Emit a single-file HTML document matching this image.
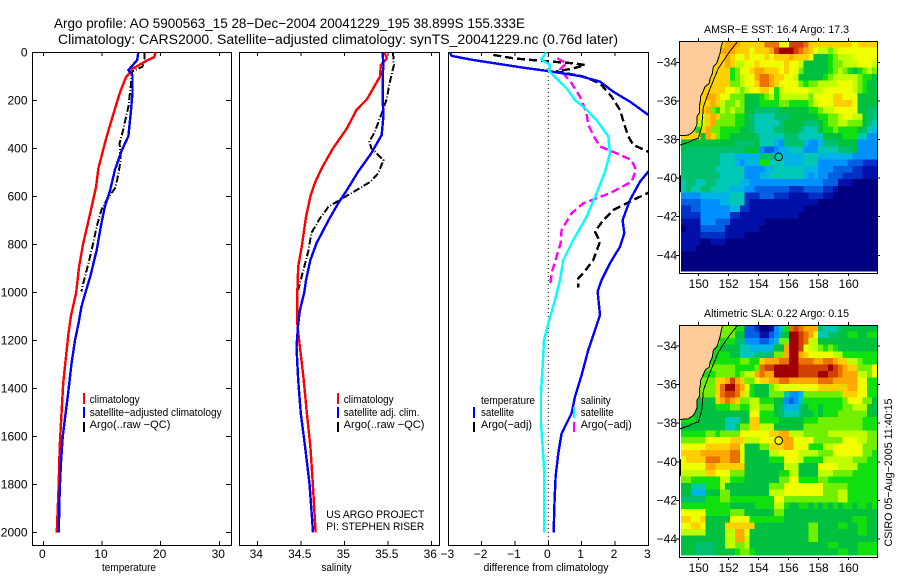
<!DOCTYPE html>
<html lang="en">
<head>
<meta charset="utf-8">
<title>Argo profile 5900563_15</title>
<style>
html,body{margin:0;padding:0;background:#fff;width:900px;height:580px;overflow:hidden}
svg{display:block}
text{font-family:"Liberation Sans",sans-serif;fill:#000}
.t{font-size:14px}
.s{font-size:11px}
.k{font-size:12px}
</style>
</head>
<body>
<svg id="fig" xmlns="http://www.w3.org/2000/svg" width="900" height="580" viewBox="0 0 900 580">
<rect x="0" y="0" width="900" height="580" fill="#fff"/>
<text class="t" x="54" y="28" textLength="471" lengthAdjust="spacingAndGlyphs">Argo profile: AO 5900563_15 28−Dec−2004 20041229_195 38.899S 155.333E</text>
<text class="t" x="58" y="44" textLength="560" lengthAdjust="spacingAndGlyphs">Climatology: CARS2000. Satellite−adjusted climatology: synTS_20041229.nc (0.76d later)</text>
<g id="plots"></g>

<text class="s" x="102" y="571" textLength="54" lengthAdjust="spacingAndGlyphs">temperature</text>
<text class="s" x="321.5" y="571" textLength="30" lengthAdjust="spacingAndGlyphs">salinity</text>
<text class="s" x="483.5" y="571" textLength="125" lengthAdjust="spacingAndGlyphs">difference from climatology</text>

<g>
<rect x="83" y="393" width="2" height="11" fill="#f00"/>
<rect x="83" y="407" width="2" height="11" fill="#00f"/>
<rect x="83" y="422" width="2" height="10" fill="#000"/>
<text class="s" x="89.7" y="403" textLength="50" lengthAdjust="spacingAndGlyphs">climatology</text>
<text class="s" x="89.7" y="416" textLength="132" lengthAdjust="spacingAndGlyphs">satellite−adjusted climatology</text>
<text class="s" x="89.7" y="428" textLength="80.7" lengthAdjust="spacingAndGlyphs">Argo(..raw −QC)</text>
</g>
<g>
<rect x="337" y="393" width="2" height="11" fill="#f00"/>
<rect x="337" y="407" width="2" height="11" fill="#00f"/>
<rect x="337" y="422" width="2" height="10" fill="#000"/>
<text class="s" x="343.7" y="403" textLength="50" lengthAdjust="spacingAndGlyphs">climatology</text>
<text class="s" x="343.7" y="416" textLength="75.7" lengthAdjust="spacingAndGlyphs">satellite adj. clim.</text>
<text class="s" x="343.7" y="428" textLength="80.7" lengthAdjust="spacingAndGlyphs">Argo(..raw −QC)</text>
<text class="s" x="326.3" y="518" textLength="98" lengthAdjust="spacingAndGlyphs">US ARGO PROJECT</text>
<text class="s" x="326.3" y="530" textLength="98" lengthAdjust="spacingAndGlyphs">PI: STEPHEN RISER</text>
</g>
<g>
<rect x="473" y="407" width="2" height="11" fill="#00f"/>
<rect x="473" y="422" width="2" height="10" fill="#000"/>
<rect x="573" y="407" width="2" height="11" fill="#0ff"/>
<rect x="573" y="422" width="2" height="10" fill="#f0f"/>
<text class="s" x="481" y="404" textLength="54" lengthAdjust="spacingAndGlyphs">temperature</text>
<text class="s" x="481" y="416" textLength="33" lengthAdjust="spacingAndGlyphs">satellite</text>
<text class="s" x="481" y="428" textLength="51" lengthAdjust="spacingAndGlyphs">Argo(−adj)</text>
<text class="s" x="580.7" y="404" textLength="30" lengthAdjust="spacingAndGlyphs">salinity</text>
<text class="s" x="580.7" y="416" textLength="33" lengthAdjust="spacingAndGlyphs">satellite</text>
<text class="s" x="580.7" y="428" textLength="51" lengthAdjust="spacingAndGlyphs">Argo(−adj)</text>
</g>

<text class="s" x="704" y="33" textLength="145" lengthAdjust="spacingAndGlyphs">AMSR−E SST: 16.4 Argo: 17.3</text>
<text class="s" x="704" y="317" textLength="145" lengthAdjust="spacingAndGlyphs">Altimetric SLA: 0.22 Argo: 0.15</text>
<text class="s" transform="translate(892,546.5) rotate(-90)" x="0" y="0" textLength="148" lengthAdjust="spacingAndGlyphs">CSIRO 05−Aug−2005 11:40:15</text>
</svg>

<script>
/* ---------- profile data: depths and values ---------- */
const depthTicks = [0,200,400,600,800,1000,1200,1400,1600,1800,2000];
const tempTicks = [0,10,20,30];
const salTicks = [34,34.5,35,35.5,36];
const salTickLabels = ['34','34.5','35','35.5','36'];
const diffTicks = [-3,-2,-1,0,1,2,3];
const diffTickLabels = ['−3','−2','−1','0','1','2','3'];

const tempClimDepths = [0,20,35,67,104,164,261,351,483,560,671,796,893,1000,1100,1170,1283,1380,1505,1645,1810,2000];
const tempClimValues = [19.1,18.9,17.6,15.3,14.1,13.1,11.9,10.8,9.4,9.0,8.0,6.8,6.1,5.6,4.7,4.3,3.8,3.4,3.1,2.8,2.6,2.3];
const tempSatDepths = [0,32,74,94,170,254,349,407,490,574,643,712,824,935,1000,1061,1130,1200,1297,1408,1505,1603,1714,1825,1936,2000];
const tempSatValues = [16.2,16,14.5,15.2,15.2,14.9,14.5,13.4,12.2,11.4,10.5,9.9,9.1,8,7.2,6.5,6,5.4,4.8,4.3,3.8,3.3,3,2.8,2.7,2.6];
const tempArgoDepths = [0,39,60,80,143,226,324,379,449,532,567,615,657,726,796,879,963,997];
const tempArgoValues = [17.3,17.2,16.9,15.1,14.9,14.5,13.6,13,13.2,12.6,12.2,10.8,9.9,9.1,8.5,7.7,6.8,6.5];

const salClimDepths = [0,25,53,101,196,240,317,400,483,546,601,685,810,893,1000,1130,1228,1353,1505,1644,1811,2000];
const salClimValues = [35.46,35.49,35.42,35.41,35.26,35.14,35.03,34.87,34.74,34.66,34.61,34.56,34.51,34.47,34.46,34.46,34.49,34.53,34.57,34.61,34.64,34.67];
const salSatDepths = [0,60,87,199,261,344,421,497,574,629,699,796,865,949,1000,1075,1130,1228,1367,1505,1644,1797,1894,2000];
const salSatValues = [35.44,35.45,35.44,35.44,35.45,35.43,35.31,35.16,35.03,34.93,34.82,34.68,34.61,34.56,34.54,34.49,34.47,34.45,34.47,34.5,34.55,34.6,34.62,34.64];
const salArgoDepths = [0,53,129,192,254,331,372,400,421,449,504,539,574,615,643,692,754,824,907,963,990];
const salArgoValues = [35.56,35.57,35.52,35.49,35.43,35.35,35.29,35.31,35.37,35.45,35.39,35.3,35.14,34.95,34.82,34.72,34.62,34.59,34.53,34.49,34.47];

const diffTempSatDepths = [0,15,32,64,79,99,122,164,206,261,300,400,497,539,615,699,754,810,879,949,997,1094,1157,1240,1345,1435,1504,1588,1671,1768,1865,2000];
const diffTempSatValues = [-2.95,-2.9,-2.25,-0.75,0.05,0.95,1.55,1.95,2.45,3,3.3,3.5,3,2.75,2.45,2.23,2.28,2.15,1.85,1.6,1.48,1.55,1.4,1.2,1,0.8,0.7,0.4,0.3,0.22,0.19,0.16];
const diffSalSatDepths = [0,29,53,80,150,199,233,282,351,421,497,587,685,782,865,949,1032,1129,1199,1310,1421,1546,1643,1754,2000];
const diffSalSatValues = [-0.05,-0.22,0.05,0.03,0.55,0.8,1.1,1.45,1.8,1.85,1.7,1.45,1.15,0.75,0.45,0.35,0.2,0,-0.13,-0.17,-0.22,-0.22,-0.17,-0.12,-0.12];
const diffTempArgoDepths = [11,25,35,46,53,67,80,101,129,185,240,296,351,386,414,450,530,585,622,657,699,747,789,865,921,942,979];
const diffTempArgoValues = [-1.65,-1.05,-0.25,0.75,1.1,0.75,0.25,1.05,1.55,1.9,2.15,2.27,2.4,2.55,3,3.6,3.5,3,2.45,1.95,1.65,1.4,1.55,1.35,1.05,0.9,0.9];
const diffSalArgoDepths = [25,46,71,129,185,254,303,351,393,421,449,490,539,587,629,671,740,796,851,921,976];
const diffSalArgoValues = [0.27,0.55,0.35,0.7,0.95,1.15,1.2,1.37,1.55,2.05,2.5,2.63,2.5,1.85,1.05,0.7,0.4,0.37,0.25,0.1,0.05];

/* ---------- map data: colour-level grids (40 columns, base-18 levels) ---------- */
const sstRows = [
"ddddddddde eedddddfff ccgggfdddd dddddcdddd",
"ddddddddee edddcdddeg hhhgfedcbb abcccccccc",
"ddddddddde dccdcccdcd ddedddc888 9abbbccccc",
"ddddddddde dbbccdcccc cdccb88888 9aabbbcccb",
"dddddddddd 9accdeeddd cdcca88888 9aba989aba",
"dddddddddd 9abcceffed dccb888889 abbbbba998",
"dddddddddd aabccdffed cccca9aabb bbcccba988",
"dddddddddc cbabccddc9 bcccccbbbc cccccba988",
"dddddeedcc aaa8889ab9 bbbbbbaccc cddccc8888",
"ddddddedba aba8889999 aa9999abcc cddddc8888",
"dddddea9ba baa8877777 88888899ab bccccc8877",
"ddddbdedaa a998766667 7788888899 aabccbb877",
"dddbbdeaaa a998766666 7888877789 aabbaaa876",
"ddd9deaa99 9988766667 7888766689 9a99998765",
"dddd8eda99 8888876666 6777666668 8889996644",
"8888888888 8777786665 4777754457 7788884444",
"8777777777 7778884334 5566644466 6677784444",
"7777777766 6555557776 6555566655 5555544444",
"7777777766 6545559966 6555566644 4444333222",
"7777777666 6664444556 6666655544 4333322111",
"7777777766 6664445566 6666654544 3332222111",
"6776677666 6655444444 4444444443 3311100000",
"6766776666 5554433333 3322233332 2100000000",
"4444555555 6662223332 2211112221 1000000000",
"3333444455 6662111111 1111111100 0000000000",
"2233444444 5522111111 1111100000 0000000000",
"2222444444 2211111111 1111000000 0000000000",
"1111444333 1111111000 0000000000 0000000000",
"0111333331 1111110000 0000000000 0000000000",
"1111222221 1110000000 0000000000 0000000000",
"1111001110 0000000000 0000000000 0000000000",
"1110000000 0000000000 0000000000 0000000000",
"0000000000 0000000000 0000000000 0000000000",
"0000000000 0000000000 0000000000 0000000000",
"0000000000 0000000000 0000000000 0000000000"
];
const slaRows = [
"aaaaaaaaaa a993320014 69fgfeee76 6678888888",
"aaaaaaaaaa a883331134 78hhgfec66 7788998899",
"aaaaaaaa99 9774443345 aahhgfbb88 8888888888",
"9999999988 8866555558 8ehhgcbba9 a988888888",
"9999999999 886667777a aehhedcccc cbb9999999",
"9999999999 99aa99deee ffhhfffeef feddbba999",
"aaaaaaaaaa a9999afggh hhhhgggggg hgfeddaaac",
"9999999aaa a9abbefeeh hhhhgggghh ggfeeebbac",
"aaaaaaadde gedaacddee ffeeeeeeff feeeeecc99",
"aaaaaaadfh hfec9888ab ccccccccdd ddddeecc99",
"aaaaaaadfg gfdb9888aa a6445aaaaa aaadddcc99",
"aaa8888def edaabb9998 8434699999 999acccaa8",
"aaa8888999 aa99bbaaa8 7555789989 999aabbb88",
"8a88888888 8888cc9998 7666788989 99aaaaaa88",
"9998888886 6688dd9999 88888999aa aaaaaaa999",
"8888888886 67aaddbbb8 88888aaaaa aaaaaaa999",
"99999aa9aa aaccccccdd eebbbaaaaa bbbbbbbbaa",
"aaaaaccccc dddbbbcccc eeeccccaaa aaacccbbaa",
"cccccddddd eec888aadd deeccc999b bccccccaaa",
"ddddeeeeee ffc88888bb ccccbbbbaa accccccaa9",
"cddddfffee ffc8888899 9cccb9999b bbbbbaaa99",
"ccccceeddd ddd8888888 8bbb8888cc ccbbbb9999",
"bbbbbddccc aaa8888888 99bb8888bb baaaa99999",
"aa999999bb 9998888888 aacc9999aa 9999999999",
"88666999b8 88888888aa acccccccca aaaa999999",
"88555888aa 88888888bb bcccccccca aabb999999",
"77777999aa 999999999c caaaaaaaaa aabb999999",
"9999999999 888889999b b988998989 8989989989",
"ccccc99999 aaa888888a a888888888 8888888888",
"ddccd88888 cccc999999 9888888888 8888899988",
"ccddc8888d ddddd88888 888888aa88 8899889988",
"bbbbb8888b beec888888 888888aa88 8888889988",
"888888888b beeb888888 888888aa88 8888888888",
"888777788b baab888888 8888888888 9988889999",
"8887777888 89aa988888 8888888888 8899889999"
];
const levelColors = ['#000080','#0010a8','#0030c8','#0060e4','#0090ff','#00b4e8','#00c8b4','#00c070','#00c040','#10e010','#70f000','#c0ff00','#f0ff00','#ffd000','#ffa800','#ec7000','#d04000','#a00000'];
const lonTicks = [150,152,154,156,158,160];
const latTicks = [-34,-36,-38,-40,-42,-44];
const coastLons = [151.6,151.5,151.42,151.31,151.2,150.98,150.9,150.76,150.7,150.42,150.3,150.13,150.1,150.04,150.06,149.87,149.9,149.71,149.62,149.31,148.71];
const coastLats = [-32.91,-33.2,-33.53,-33.8,-34.05,-34.22,-34.6,-34.83,-35.1,-35.26,-35.5,-35.78,-36.05,-36.3,-36.6,-36.82,-37.2,-37.51,-37.6,-37.77,-37.81];
const shelfLons = [152.6,151.98,151.31,150.76,150.31,150.2,149.98,149.6,149.42,148.76];
const shelfLats = [-32.91,-33.53,-34.31,-35.35,-36.3,-37.34,-37.94,-38.02,-38.12,-38.29];
const islandLons = [148.76,148.8,148.8,148.76];
const islandLats = [-39.85,-39.95,-40.6,-40.75];
const argoLon = 155.333;
const argoLat = -38.899;

/* ---------- drawing helpers ---------- */
const NS = 'http://www.w3.org/2000/svg';
const root = document.getElementById('plots');
function mk(tag, parent, props) {
  const el = document.createElementNS(NS, tag);
  for (const k in props) { el.setAttribute(k, props[k]); }
  parent.appendChild(el);
  return el;
}
function label(parent, name, x, y, str, anchor) {
  const el = mk('text', parent, { x: x, y: y, 'text-anchor': anchor, class: 'k' });
  
  
  el.textContent = str;
  return el;
}
function tickLine(parent, name, x1, y1, x2, y2) {
  const el = mk('line', parent, { x1: x1, y1: y1, x2: x2, y2: y2, stroke: '#000', 'stroke-width': 1, 'shape-rendering': 'crispEdges' });
  
  
  return el;
}
const depthY = function (d) { return 52.3 + d * 0.24; };
const box = { top: 52, bottom: 545 };

function panel(name, left, right, xScale, ticks, tickLabels, showDepth) {
  const g = mk('g', root, {});
  
  
  const clip = mk('clipPath', g, { id: name + '-clip' });
  mk('rect', clip, { x: left, y: box.top, width: right - left, height: box.bottom - box.top });
  const frame = mk('rect', g, { x: left + 0.5, y: box.top + 0.5, width: right - left, height: box.bottom - box.top, fill: 'none', stroke: '#000', 'stroke-width': 1, 'shape-rendering': 'crispEdges' });
  
  
  ticks.forEach(function (v, i) {
    const x = xScale(v);
    tickLine(g, name + '-x-tick', x, box.top, x, box.top + 4);
    tickLine(g, name + '-x-tick', x, box.bottom, x, box.bottom - 4);
    label(g, name + '-x-tick-label', x - 1, 558, tickLabels[i], 'middle');
  });
  if (showDepth) {
    depthTicks.forEach(function (d) {
      const y = depthY(d);
      tickLine(g, 'depth-tick', left, y, left + 5, y);
      tickLine(g, 'depth-tick', right, y, right - 5, y);
      label(g, 'depth-tick-label', 27.5, y + 4, String(d), 'end');
    });
  }
  return g;
}
function profile(g, panelName, name, depths, values, xScale, color, width, dash) {
  const pts = depths.map(function (d, i) { return xScale(values[i]).toFixed(1) + ',' + depthY(d).toFixed(1); });
  const el = mk('polyline', g, { points: pts.join(' '), fill: 'none', stroke: color, 'stroke-width': width, 'clip-path': 'url(#' + panelName + '-clip)', 'stroke-linejoin': 'round', 'shape-rendering': 'crispEdges' });
  
  
  if (dash) { el.setAttribute('stroke-dasharray', dash); }
  return el;
}

/* ---------- profile panels ---------- */
const tempX = function (v) { return 43.3 + v * 5.867; };
const salX = function (v) { return 257.3 + (v - 34) * 87; };
const diffX = function (v) { return 548.3 + v * 33.33; };

const tempPanel = panel('temperature-panel', 32, 231, tempX, tempTicks, tempTicks.map(String), true);
profile(tempPanel, 'temperature-panel', 'temperature-argo-line', tempArgoDepths, tempArgoValues, tempX, '#000', 2, '7 2 1 2');
profile(tempPanel, 'temperature-panel', 'temperature-climatology-line', tempClimDepths, tempClimValues, tempX, '#f00', 2.4);
profile(tempPanel, 'temperature-panel', 'temperature-satellite-line', tempSatDepths, tempSatValues, tempX, '#00f', 2.4);

const salPanel = panel('salinity-panel', 239, 439, salX, salTicks, salTickLabels, false);
profile(salPanel, 'salinity-panel', 'salinity-argo-line', salArgoDepths, salArgoValues, salX, '#000', 2, '7 2 1 2');
profile(salPanel, 'salinity-panel', 'salinity-climatology-line', salClimDepths, salClimValues, salX, '#f00', 2.4);
profile(salPanel, 'salinity-panel', 'salinity-satellite-line', salSatDepths, salSatValues, salX, '#00f', 2.4);

const diffPanel = panel('difference-panel', 448, 648, diffX, diffTicks, diffTickLabels, false);
const zeroLine = mk('line', diffPanel, { x1: diffX(0), y1: box.top, x2: diffX(0), y2: box.bottom, stroke: '#000', 'stroke-width': 1, 'stroke-dasharray': '1 3' });


profile(diffPanel, 'difference-panel', 'difference-temperature-argo-line', diffTempArgoDepths, diffTempArgoValues, diffX, '#000', 2.4, '8 4');
profile(diffPanel, 'difference-panel', 'difference-salinity-argo-line', diffSalArgoDepths, diffSalArgoValues, diffX, '#f0f', 2.4, '8 4');
profile(diffPanel, 'difference-panel', 'difference-temperature-satellite-line', diffTempSatDepths, diffTempSatValues, diffX, '#00f', 2.4);
profile(diffPanel, 'difference-panel', 'difference-salinity-satellite-line', diffSalSatDepths, diffSalSatValues, diffX, '#0ff', 2.4);

/* ---------- maps ---------- */
function mapPanel(name, rows, top, bottom, lat34Y, labelY, markerFill) {
  const left = 679, right = 877;
  const lonX = function (lon) { return 698.7 + (lon - 150) * 15; };
  const latY = function (lat) { return lat34Y + (-34 - lat) * 19.3; };
  const g = mk('g', root, {});
  
  
  const cellW = 4.9, cellH = 6.58, x0 = 681;
  rows.forEach(function (rawRow, j) {
    const row = rawRow.split(' ').join('');
    for (let i = 0; i < 40; i++) {
      const lvl = parseInt(row.charAt(i), 18);
      const c = mk('rect', g, { x: (x0 + i * cellW).toFixed(1), y: (top + j * cellH).toFixed(1), width: (cellW + 0.3).toFixed(1), height: (cellH + 0.3).toFixed(1), fill: levelColors[lvl], 'shape-rendering': 'crispEdges' });
      
      
    }
  });
  const coastPts = coastLons.map(function (lon, i) { return lonX(lon).toFixed(1) + ',' + latY(coastLats[i]).toFixed(1); });
  const land = mk('polygon', g, { points: left + ',' + top + ' ' + coastPts.join(' ') + ' ' + left + ',' + latY(-37.81).toFixed(1), fill: '#ffcc99' });
  
  
  const coast = mk('polyline', g, { points: coastPts.join(' '), fill: 'none', stroke: '#000', 'stroke-width': 1, 'shape-rendering': 'crispEdges' });
  
  
  const shelfPts = shelfLons.map(function (lon, i) { return lonX(lon).toFixed(1) + ',' + latY(shelfLats[i]).toFixed(1); });
  const shelf = mk('polyline', g, { points: shelfPts.join(' '), fill: 'none', stroke: '#000', 'stroke-width': 1, 'shape-rendering': 'crispEdges' });
  
  
  const islandPts = islandLons.map(function (lon, i) { return lonX(lon).toFixed(1) + ',' + latY(islandLats[i]).toFixed(1); });
  const island = mk('polyline', g, { points: islandPts.join(' '), fill: 'none', stroke: '#000', 'stroke-width': 1, 'shape-rendering': 'crispEdges' });
  
  
  const frame = mk('rect', g, { x: left + 0.5, y: top + 0.5, width: right - left, height: bottom - top, fill: 'none', stroke: '#000', 'stroke-width': 1, 'shape-rendering': 'crispEdges' });
  
  
  lonTicks.forEach(function (lon) {
    const x = lonX(lon);
    tickLine(g, 'longitude-tick', x, top, x, top - 3);
    tickLine(g, 'longitude-tick', x, bottom, x, bottom + 3);
    label(g, 'longitude-label', x, labelY, String(lon), 'middle');
  });
  latTicks.forEach(function (lat) {
    const y = latY(lat);
    tickLine(g, 'latitude-tick', left, y, left - 3, y);
    tickLine(g, 'latitude-tick', right, y, right + 3, y);
    label(g, 'latitude-label', 677, y + 4, '−' + Math.abs(lat), 'end');
  });
  const m = mk('circle', g, { cx: lonX(argoLon), cy: latY(argoLat), r: 3.8, fill: markerFill, stroke: '#000', 'stroke-width': 1 });
  
  
}
mapPanel('sst-map', sstRows, 41, 273, 62.3, 288, '#00c8b4');
mapPanel('sla-map', slaRows, 325, 557, 346, 572, '#f0ff00');
</script>
</body>
</html>
